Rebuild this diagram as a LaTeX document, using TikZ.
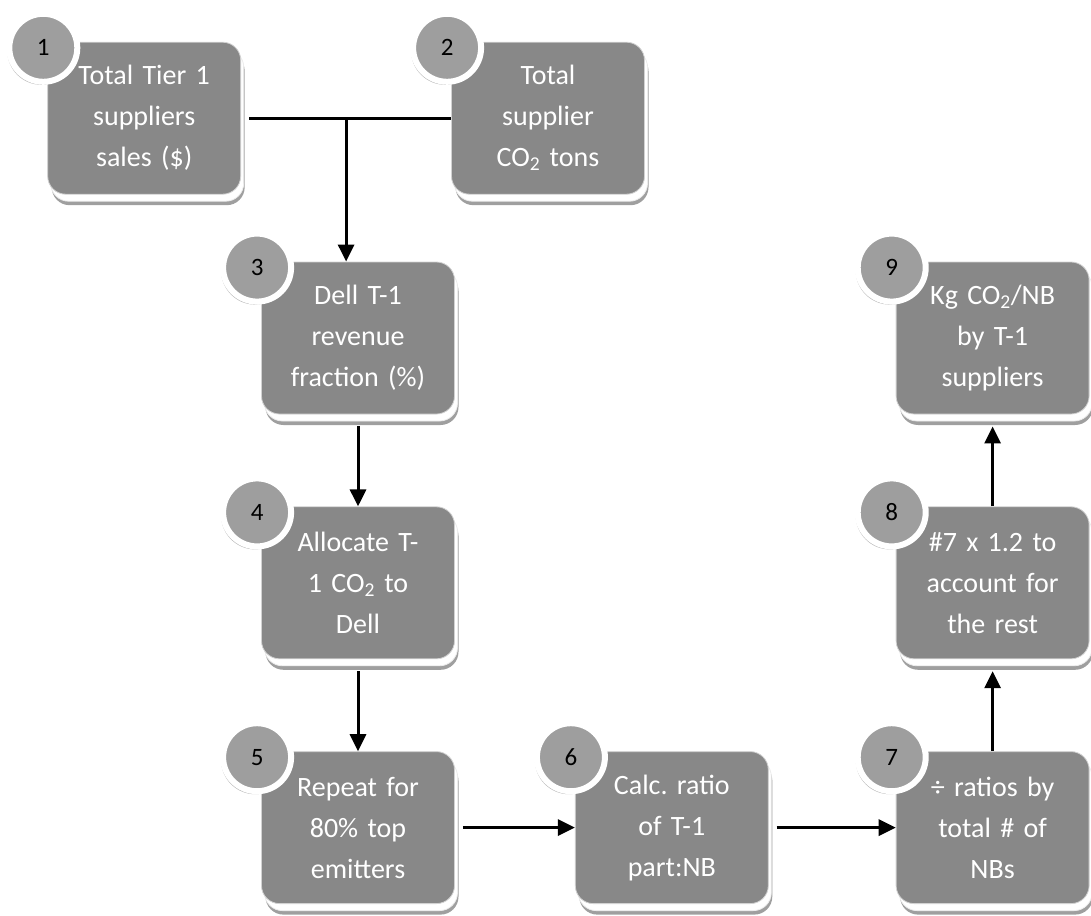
\documentclass[tikz,border=0pt]{standalone}
\usepackage{fontspec}
\setmainfont{Carlito}[WordSpace=0.85]
\usepackage{tikz}
\usetikzlibrary{arrows.meta, positioning, shadows, calc}
\definecolor{boxgray}{RGB}{136,136,136}
\definecolor{numgray}{RGB}{158,158,158}
\frenchspacing
\tikzset{%
	box/.style={draw=gray!35, line width=0.8pt, fill=boxgray, rounded corners=18pt,%
		minimum width=193pt, minimum height=152pt, inner sep=0pt, text width=190pt,%
		align=center, text=white, font=\fontsize{28}{41}\selectfont,%
		drop shadow={shadow xshift=4pt, shadow yshift=-11pt, fill=gray!75, opacity=1},%
		copy shadow={shadow xshift=3pt, shadow yshift=-7pt, fill=white, draw=gray!15}},
	num/.style={draw=white, line width=6pt, circle, fill=numgray, minimum size=68pt,%
		inner sep=0pt, font=\fontsize{25}{25}\selectfont,%
		drop shadow={shadow xshift=-2pt, shadow yshift=-3pt, fill=gray!70, opacity=0.8}},
	connector/.style={line width=3pt},
	sel/.style={-{Triangle[length=17pt,width=16pt]}, line width=3pt}
}
\begin{document}
\begin{tikzpicture}[x=1pt, y=-1pt]
		\useasboundingbox (0,0) rectangle (1091,915);
		\node[box] (frac) at (358,338) {Dell T-1\\revenue\\fraction (\%)};
		\node[box] (alloc) [below=92pt of frac] {Allocate T-\\1 CO\textsubscript{2} to\\Dell};
		\node[box] (repeat) [below=92pt of alloc] {Repeat for\\80\% top\\emitters};
		\node[box] (ratio) [right=120pt of repeat] {Calc. ratio\\of T-1\\part:NB};
		\node[box] (div) [right=127pt of ratio] {÷ ratios by\\total \# of\\NBs};
		\node[box] (rest) [above=92pt of div] {\#7 x 1.2 to\\account for\\the rest};
		\node[box] (kg) [above=92pt of rest] {Kg CO\textsubscript{2}/NB\\by T-1\\suppliers};
		\node[box] (sales) [above left=67pt and 20pt of frac] {Total Tier 1\\suppliers\\sales (\$)};
		\node[box] (co2) [right=210pt of sales] {Total\\supplier\\CO\textsubscript{2} tons};
		\foreach \b/\n in {sales/1, co2/2, frac/3, alloc/4, repeat/5, ratio/6, div/7, rest/8, kg/9}
			\node[num] (n\n) at ([shift={(-4pt,-6pt)}]\b.north west) {\n};
		\coordinate (join) at ($(sales.east)!0.5!(co2.west)$);
		\draw [connector, shorten <=8pt] (sales.east) to (co2.west);
		\draw [sel] (join) to (join |- frac.north);
		\draw [sel, shorten <=12pt] (frac.south) to (alloc.north);
		\draw [sel, shorten <=12pt] (alloc.south) to (repeat.north);
		\draw [sel, shorten <=8pt] (repeat.east) to (ratio.west);
		\draw [sel, shorten <=8pt] (ratio.east) to (div.west);
		\draw [sel, shorten >=12pt] (div.north) to (rest.south);
		\draw [sel, shorten >=12pt] (rest.north) to (kg.south);
	\end{tikzpicture}
\end{document}
